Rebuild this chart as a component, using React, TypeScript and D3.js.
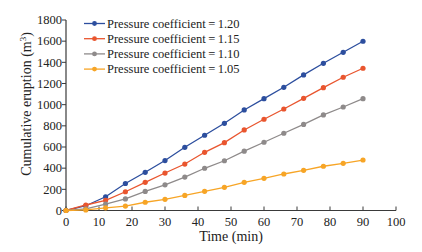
import React from "react";
import * as d3 from "d3";

const times = [0, 6, 12, 18, 24, 30, 36, 42, 48, 54, 60, 66, 72, 78, 84, 90];
const series120 = [0, 45, 130, 255, 361, 472, 597, 711, 824, 950, 1057, 1164, 1281, 1391, 1495, 1599];
const series115 = [0, 52, 96, 177, 266, 354, 439, 550, 641, 761, 862, 959, 1060, 1161, 1259, 1344];
const series110 = [0, 15, 61, 109, 180, 243, 316, 399, 470, 561, 645, 730, 813, 903, 978, 1057];
const series105 = [0, 5, 25, 42, 78, 106, 142, 181, 219, 266, 304, 345, 380, 418, 446, 477];
const seriesLabels = [
  "Pressure coefficient\u2009=\u20091.20",
  "Pressure coefficient\u2009=\u20091.15",
  "Pressure coefficient\u2009=\u20091.10",
  "Pressure coefficient\u2009=\u20091.05",
];
const seriesColors = ["#2c4e9e", "#e9552e", "#8e8a8a", "#f7a526"];
const xTicks = [0, 10, 20, 30, 40, 50, 60, 70, 80, 90, 100];
const yTicks = [0, 200, 400, 600, 800, 1000, 1200, 1400, 1600, 1800];

export default function App() {
  const W = 422, H = 252;
  const x = d3.scaleLinear().domain([0, 100]).range([66, 396]);
  const y = d3.scaleLinear().domain([0, 1800]).range([210.5, 20]);
  const all = [series120, series115, series110, series105];
  const line = d3.line<number>().x((_, i) => x(times[i])).y((d) => y(d));
  const tf: React.CSSProperties = { fontFamily: '"Liberation Serif", "Times New Roman", Times, serif' };
  const axisColor = "#3a3a3a";
  return (
    <svg width={W} height={H} style={{ position: "absolute", left: 0, top: 0, background: "#fff" }}>
      {/* axes */}
      <line x1={x(0)} x2={x(100)} y1={y(0)} y2={y(0)} stroke={axisColor} strokeWidth={1.2} />
      <line x1={x(0)} x2={x(0)} y1={y(0)} y2={y(1800)} stroke={axisColor} strokeWidth={1.2} />
      {xTicks.map((t) => (
        <g key={"x" + t}>
          <line x1={x(t)} x2={x(t)} y1={y(0)} y2={y(0) - 4} stroke={axisColor} strokeWidth={1} />
          <text style={tf} x={x(t)} y={y(0) + 15} textAnchor="middle" fontSize={12.5} fill="#222">{t}</text>
        </g>
      ))}
      {yTicks.map((t) => (
        <g key={"y" + t}>
          <line x1={x(0) - 4} x2={x(0)} y1={y(t)} y2={y(t)} stroke={axisColor} strokeWidth={1} />
          <text style={tf} x={x(0) - 4} y={y(t) + 4.3} textAnchor="end" fontSize={12.5} fill="#222">{t}</text>
        </g>
      ))}
      <text style={tf} x={(x(0) + x(100)) / 2} y={241} textAnchor="middle" fontSize={14} fill="#222">Time (min)</text>
      <text style={tf} transform={`translate(31,104) rotate(-90)`} textAnchor="middle" fontSize={14} fill="#222">
        Cumulative eruption (m<tspan dy={-5} fontSize={9}>3</tspan><tspan dy={5}>)</tspan>
      </text>
      {/* series */}
      {all.map((s, k) => (
        <g key={"s" + k}>
          <path d={line(s) || ""} fill="none" stroke={seriesColors[k]} strokeWidth={1.3} />
          {s.map((v, i) => (
            <circle key={i} cx={x(times[i])} cy={y(v)} r={2.6} fill={seriesColors[k]} />
          ))}
        </g>
      ))}
      {/* legend */}
      {seriesLabels.map((lab, k) => {
        const ly = 23.5 + k * 15.2;
        return (
          <g key={"l" + k}>
            <line x1={84} x2={105} y1={ly} y2={ly} stroke={seriesColors[k]} strokeWidth={1.3} />
            <circle cx={94.5} cy={ly} r={2.4} fill={seriesColors[k]} />
            <text style={tf} x={107} y={ly + 4.3} fontSize={12.5} fill="#222">{lab}</text>
          </g>
        );
      })}
    </svg>
  );
}
